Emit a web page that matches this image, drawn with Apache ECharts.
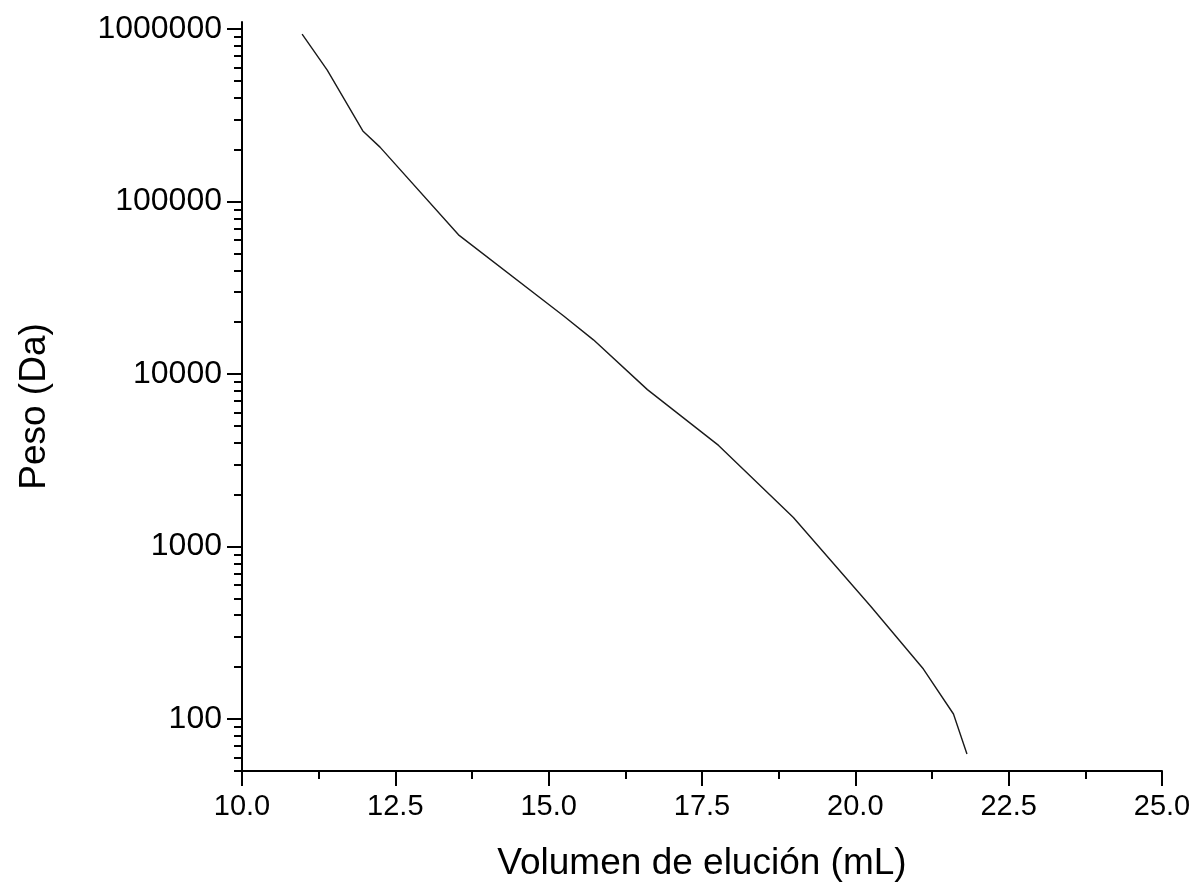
<!DOCTYPE html>
<html>
<head>
<meta charset="utf-8">
<style>
  html, body { margin: 0; padding: 0; background: #fff; }
  #chart { width: 1198px; height: 890px; }
</style>
<script src="https://cdn.jsdelivr.net/npm/echarts@6/dist/echarts.min.js"></script>
</head>
<body>
<div id="chart"></div>
<script>
// Calibration curve: elution volume (mL) vs molecular weight (Da)
const volumen = [10.98, 11.39, 11.97, 12.25, 13.53, 15.24, 15.73, 16.61, 17.77, 18.99, 20.25, 21.11, 21.60, 21.82];
const peso    = [935000, 579000, 257000, 207000, 64200, 21800, 15800, 8130, 3860, 1476, 451, 195, 107, 62.7];

// Axis tick positions
const yMajorTicks = [100, 1000, 10000, 100000, 1000000];
const yMinorTicks = [];
[10, 100, 1000, 10000, 100000].forEach(function (d) {
  for (let k = 2; k <= 9; k++) yMinorTicks.push(k * d);
});

const FONT = '"Liberation Sans", Arial, sans-serif';
const INK = '#000';

const chart = echarts.init(document.getElementById('chart'), null, { renderer: 'canvas' });

chart.setOption({
  animation: false,
  backgroundColor: '#fff',
  grid: { left: 242, right: 36, top: 22, bottom: 119, containLabel: false },
  xAxis: {
    type: 'value',
    min: 10,
    max: 25,
    interval: 2.5,
    name: 'Volumen de elución (mL)',
    nameLocation: 'middle',
    nameGap: 74,
    nameTextStyle: { fontFamily: FONT, fontSize: 37, color: INK },
    axisLine: { show: true, onZero: false, lineStyle: { color: INK, width: 2 } },
    axisTick: { show: true, inside: false, length: 15, lineStyle: { color: INK, width: 2 } },
    minorTick: { show: true, splitNumber: 2, length: 8, lineStyle: { color: INK, width: 2 } },
    splitLine: { show: false },
    axisLabel: {
      fontFamily: FONT, fontSize: 29, color: INK, margin: 21,
      formatter: function (v) { return v.toFixed(1); }
    }
  },
  yAxis: [
    {
      type: 'log',
      logBase: 10,
      min: 50,
      max: 1100000,
      position: 'left',
      name: 'Peso (Da)',
      nameLocation: 'middle',
      nameGap: 189,
      nameRotate: 90,
      nameTextStyle: { fontFamily: FONT, fontSize: 37, color: INK, padding: [0, 20, 0, 0] },
      axisLine: { show: true, onZero: false, lineStyle: { color: INK, width: 2 } },
      axisTick: { show: true, inside: false, length: 15, customValues: yMajorTicks, lineStyle: { color: INK, width: 2 } },
      splitLine: { show: false },
      axisLabel: {
        fontFamily: FONT, fontSize: 32, color: INK, margin: 20,
        customValues: yMajorTicks,
        formatter: function (v) { return String(Math.round(v)); }
      }
    },
    {
      // minor ticks of the log axis (2..9 × 10^n)
      type: 'log',
      logBase: 10,
      min: 50,
      max: 1100000,
      position: 'left',
      axisLine: { show: false },
      axisTick: { show: true, inside: false, length: 8, customValues: yMinorTicks, lineStyle: { color: INK, width: 2 } },
      axisLabel: { show: false },
      splitLine: { show: false }
    }
  ],
  series: [{
    type: 'line',
    yAxisIndex: 0,
    data: volumen.map(function (v, i) { return [v, peso[i]]; }),
    showSymbol: false,
    symbol: 'none',
    lineStyle: { color: '#1a1a1a', width: 1.4 },
    silent: true
  }]
});
</script>
</body>
</html>
